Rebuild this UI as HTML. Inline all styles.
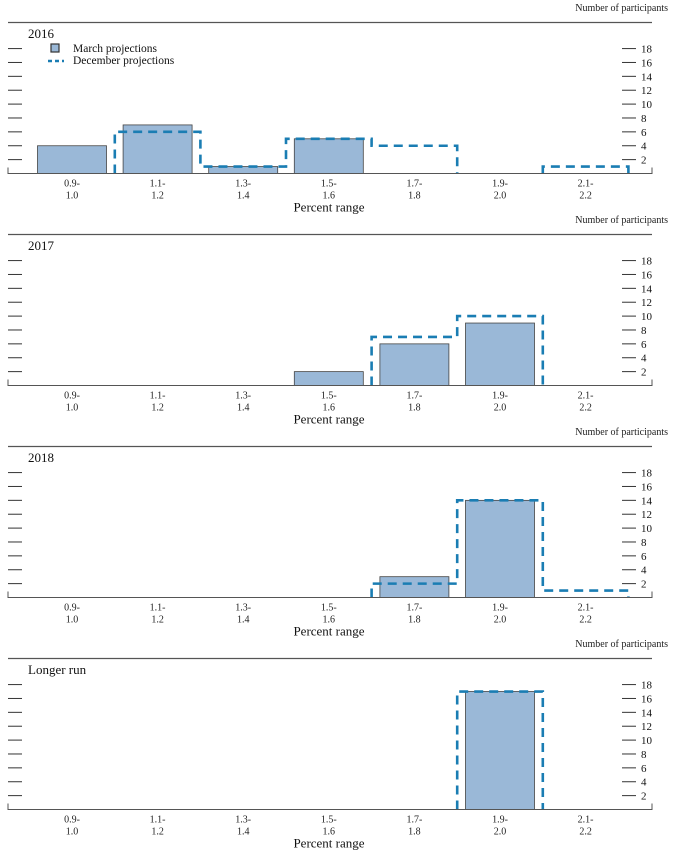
<!DOCTYPE html>
<html><head><meta charset="utf-8"><style>
html,body{margin:0;padding:0;background:#fff}
svg{display:block;font-family:"Liberation Serif",serif}
</style></head><body>
<svg id="chart" width="674" height="859" xmlns="http://www.w3.org/2000/svg"></svg>
<script>
const categories=[["0.9-","1.0"],["1.1-","1.2"],["1.3-","1.4"],["1.5-","1.6"],["1.7-","1.8"],["1.9-","2.0"],["2.1-","2.2"]];
const panelTitles=["2016","2017","2018","Longer run"];
const marchValues=[[4,7,1,5,0,0,0],[0,0,0,2,6,9,0],[0,0,0,0,3,14,0],[0,0,0,0,0,17,0]];
const decemberValues=[[0,6,1,5,4,0,1],[0,0,0,0,7,10,0],[0,0,0,0,2,14,1],[0,0,0,0,0,17,0]];
const yTicks=[2,4,6,8,10,12,14,16,18];
const tickLabelsShown=[[2,4,6,8,10,12,14,16,18],[2,4,6,8,10,12,14,16,18],[2,4,6,8,10,12,14,16,18],[2,4,6,8,10,12,14,16,18]];

const svg=document.getElementById('chart');
const NS="http://www.w3.org/2000/svg";
function mk(tag,attrs,parent){const e=document.createElementNS(NS,tag);for(const k in attrs)e.setAttribute(k,attrs[k]);(parent||svg).appendChild(e);return e;}
const binW=85.6, x0=72;
function xC(i){return x0+i*binW;}
const pxPerUnit=6.94;

panelTitles.forEach((title,p)=>{
  const off=p*212;
  const base=173.5+off;
  function y(v){return base-v*pxPerUnit;}
  const g=mk('g',{});
  
  
  let t=mk('text',{x:668,y:11+off,'font-size':10,'text-anchor':'end',fill:'#222'},g);
  t.textContent='Number of participants';
  
  
  let l=mk('line',{x1:8,x2:652,y1:22.5+off,y2:22.5+off,stroke:'#555','stroke-width':1.2},g);
  
  
  t=mk('text',{x:28,y:38+off,'font-size':13,fill:'#111'},g);
  t.textContent=title;
  
  
  yTicks.forEach(v=>{
    let a=mk('line',{x1:8,x2:22,y1:y(v),y2:y(v),stroke:'#333','stroke-width':1},g);
    
    
    let b=mk('line',{x1:622,x2:636,y1:y(v),y2:y(v),stroke:'#333','stroke-width':1},g);
    
    
    if(tickLabelsShown[p].includes(v)){
      let tl=mk('text',{x:641,y:y(v)+4,'font-size':11,fill:'#111'},g);
      tl.textContent=v;
      
      
    }
  });
  // march bars
  marchValues[p].forEach((v,i)=>{
    if(v<=0)return;
    let r=mk('rect',{x:xC(i)-34.5,y:y(v),width:69,height:v*pxPerUnit,fill:'#9ab8d7',stroke:'#444','stroke-width':0.8},g);
    
    
  });
  // december dashed step lines
  const d=decemberValues[p];
  let i=0;
  while(i<d.length){
    if(d[i]>0){
      let path='M'+(xC(i)-binW/2)+','+base;
      let j=i;
      while(j<d.length&&d[j]>0){
        path+=' L'+(xC(j)-binW/2)+','+y(d[j])+' L'+(xC(j)+binW/2)+','+y(d[j]);
        j++;
      }
      path+=' L'+(xC(j-1)+binW/2)+','+base;
      let pe=mk('path',{d:path,fill:'none',stroke:'#1a7db3','stroke-width':2.6,'stroke-dasharray':'9,6'},g);
      
      
      i=j;
    } else i++;
  }
  let ax=mk('path',{d:'M8,'+(base-6)+' L8,'+base+' L652,'+base+' L652,'+(base-6),fill:'none',stroke:'#555','stroke-width':1},g);
  
  
  categories.forEach((c,i)=>{
    let a=mk('text',{x:xC(i),y:base+13,'font-size':10,'text-anchor':'middle',fill:'#222'},g);
    a.textContent=c[0];
    
    
    let b=mk('text',{x:xC(i),y:base+25,'font-size':10,'text-anchor':'middle',fill:'#222'},g);
    b.textContent=c[1];
    
    
  });
  t=mk('text',{x:329,y:base+38,'font-size':13,'text-anchor':'middle',fill:'#111'},g);
  t.textContent='Percent range';
  
  
  if(p===0){
    const lg=mk('g',{},g);
    
    
    let r=mk('rect',{x:51,y:44,width:8,height:8,fill:'#9ab8d7',stroke:'#333','stroke-width':1.2},lg);
    
    
    let lt=mk('text',{x:73,y:52,'font-size':11.5,fill:'#111'},lg);
    lt.textContent='March projections';
    
    
    let dl=mk('line',{x1:48,x2:64,y1:61,y2:61,stroke:'#1a7db3','stroke-width':2.6,'stroke-dasharray':'4,3'},lg);
    
    
    lt=mk('text',{x:73,y:64,'font-size':11.5,fill:'#111'},lg);
    lt.textContent='December projections';
    
    
  }
});
</script>
</body></html>
